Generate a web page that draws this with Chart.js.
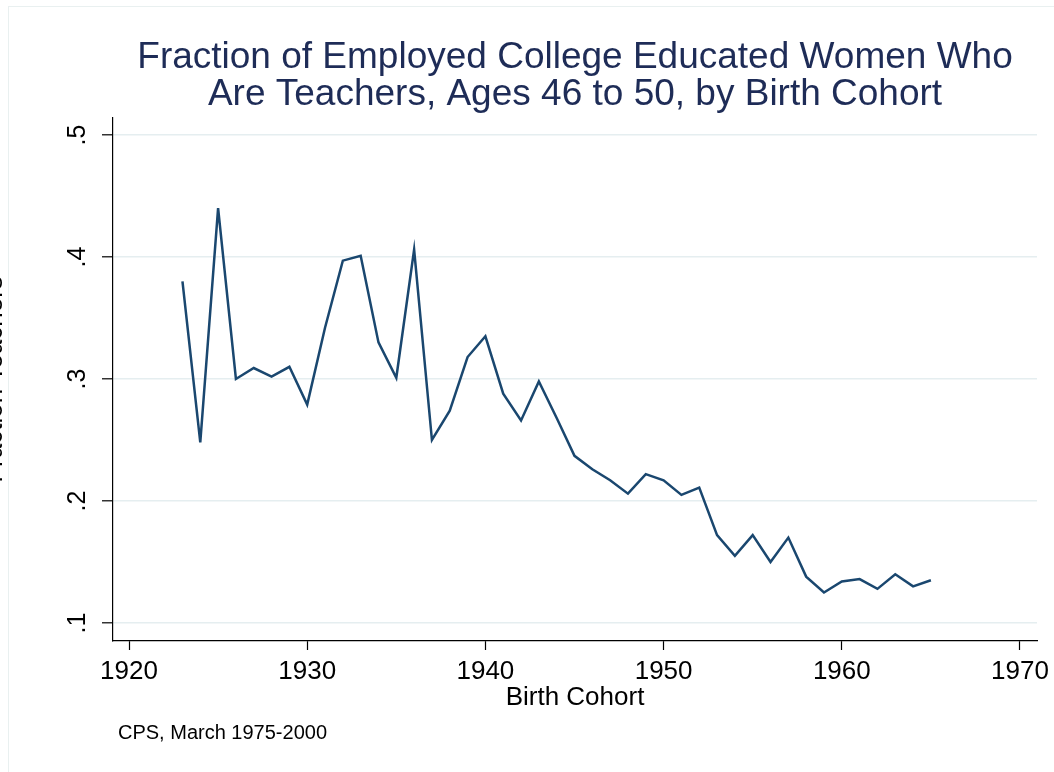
<!DOCTYPE html>
<html><head><meta charset="utf-8">
<script src="https://cdn.jsdelivr.net/npm/chart.js"></script>
<style>
html,body{margin:0;padding:0;background:#fff;overflow:hidden;width:1054px;height:772px;}
#frame{position:absolute;left:8px;top:6px;width:1200px;height:900px;border:1px solid #e9f0f0;box-sizing:border-box;}
#wrap{position:absolute;left:-30px;top:0;width:1084px;height:772px;}
</style></head><body>
<div id="frame"></div>
<div id="wrap"><canvas id="c" width="1084" height="772"></canvas></div>
<script>
const birthCohort = [1923,1924,1925,1926,1927,1928,1929,1930,1931,1932,1933,1934,1935,1936,1937,1938,1939,1940,1941,1942,1943,1944,1945,1946,1947,1948,1949,1950,1951,1952,1953,1954,1955,1956,1957,1958,1959,1960,1961,1962,1963,1964,1965];
const fractionTeachers = [0.380,0.248,0.440,0.300,0.309,0.302,0.310,0.279,0.342,0.397,0.401,0.330,0.301,0.406,0.250,0.274,0.318,0.335,0.288,0.266,0.298,0.268,0.237,0.226,0.217,0.206,0.222,0.217,0.205,0.211,0.172,0.155,0.172,0.150,0.170,0.138,0.125,0.134,0.136,0.128,0.140,0.130,0.135];
const xTickValues = [1920,1930,1940,1950,1960,1970];
const yTickValues = [0.1,0.2,0.3,0.4,0.5];
const titleLines = ["Fraction of Employed College Educated Women Who","Are Teachers, Ages 46 to 50, by Birth Cohort"];
const xTitle = "Birth Cohort";
const yTitle = "Fraction Teachers";
const noteText = "CPS, March 1975-2000";

const FONT = "'Liberation Sans', Arial, Helvetica, sans-serif";

const notePlugin = {
  id: 'note',
  afterDraw(chart) {
    const ctx = chart.ctx;
    ctx.save();
    ctx.font = "20px " + FONT;
    ctx.fillStyle = "#000";
    ctx.textAlign = "left";
    ctx.textBaseline = "alphabetic";
    ctx.fillText(noteText, chart.chartArea.left + 5, 739);
    ctx.restore();
  }
};

new Chart(document.getElementById('c'), {
  type: 'line',
  data: {
    datasets: [{
      data: birthCohort.map((x, i) => ({x: x, y: fractionTeachers[i]})),
      borderColor: '#1a476f',
      borderWidth: 2.5,
      pointRadius: 0,
      tension: 0,
      fill: false
    }]
  },
  options: {
    responsive: false,
    animation: false,
    devicePixelRatio: 1,
    layout: { padding: { left: 0, right: 17, top: 39, bottom: 59 } },
    plugins: {
      legend: { display: false },
      tooltip: { enabled: false },
      title: {
        display: true,
        text: titleLines,
        fullSize: false,
        color: '#1e2c57',
        font: { family: FONT, size: 37, weight: 'normal', lineHeight: 37/37 },
        padding: { top: 0, bottom: 5 }
      }
    },
    scales: {
      x: {
        type: 'linear',
        min: 1919.102,
        max: 1970.954,
        afterBuildTicks: s => { s.ticks = xTickValues.map(v => ({value: v})); },
        afterFit: s => { s.height = 72; s.paddingLeft = 0; s.paddingRight = 0; },
        border: { display: true, color: '#000', width: 1.2 },
        grid: { drawOnChartArea: false, drawTicks: true, tickLength: 9, tickColor: '#000', tickWidth: 1.2 },
        ticks: {
          color: '#000', padding: 6.4, maxRotation: 0, minRotation: 0,
          font: { family: FONT, size: 26 },
          callback: v => String(v)
        },
        title: {
          display: true, text: xTitle, color: '#000',
          font: { family: FONT, size: 26 },
          padding: { top: 0, bottom: 0 }
        }
      },
      y: {
        type: 'linear',
        min: 0.08525,
        max: 0.51393,
        afterBuildTicks: s => { s.ticks = yTickValues.map(v => ({value: v})); },
        afterFit: s => { s.width = 143; s.paddingTop = 0; s.paddingBottom = 0; },
        border: { display: true, color: '#000', width: 1.2 },
        grid: { color: '#e5eef0', lineWidth: 1.6, drawTicks: true, tickLength: 11, tickColor: '#000', tickWidth: 1.2 },
        ticks: {
          color: '#000', padding: 13.6, minRotation: 90, maxRotation: 90, crossAlign: 'center',
          font: { family: FONT, size: 25 },
          callback: v => String(v).replace(/^0\./, '.')
        },
        title: {
          display: true, text: yTitle, color: '#000',
          font: { family: FONT, size: 26 },
          padding: { top: 9, bottom: 0 }
        }
      }
    }
  },
  plugins: [notePlugin]
});
</script>
</body></html>
